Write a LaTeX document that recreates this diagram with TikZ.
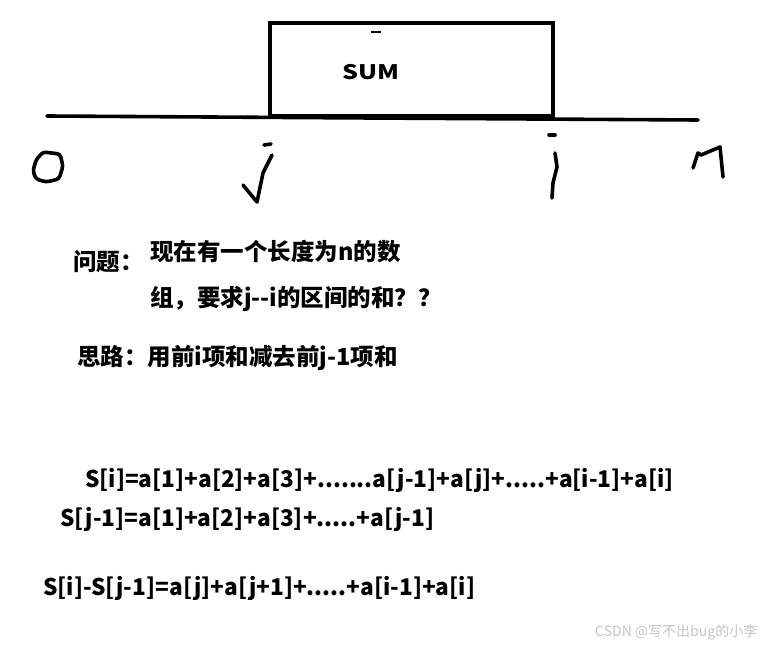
\documentclass[tikz,border=0pt]{standalone}
\usepackage{fontspec}
\setmainfont{Noto Sans CJK SC}
\definecolor{wmark}{HTML}{C4C4C4}
\usepackage{tikz}

\begin{document}
\begin{tikzpicture}[x=1pt, y=-1pt,
  hand/.style={line width=3.6pt, line cap=round, line join=round},
  sumbox/.style={rectangle, draw, line width=4pt, minimum width=283pt,
                 minimum height=93pt, inner sep=0pt},
  txt/.style={anchor=west, inner sep=0pt, font=\fontsize{23.5}{27}\selectfont\bfseries},
  fml/.style={anchor=west, inner sep=0pt, font=\fontsize{23}{27}\selectfont\bfseries, xscale=0.985},
]
\fill[white] (0,0) rectangle (767,645);
\useasboundingbox (0,0) rectangle (767,645);

% the array and its sum
\coordinate (left) at (47,116);
\coordinate (right) at (698,120);
\draw[hand] (left) -- (right);
\node[sumbox] (box) at (411.5,69.5) {};
\node[font=\fontsize{20}{24}\selectfont\bfseries, xscale=1.25] (sum) at (371,72) {SUM};
\draw[line width=1.2pt] (371,32) -- (381,32);

% handwritten marks under the line
\draw[hand, rounded corners=3pt] (43,152) -- (36,160) -- (33,171) -- (36,179) -- (46,182)
  -- (59,179) -- (63,166) -- (60,154) -- cycle;
\draw[hand] (264,145) -- (271,144);
\draw[hand] (272,155) -- (263,173) -- (257,202) -- (243,185);
\draw[hand] (549,135) -- (555,135);
\draw[hand] (555,153) -- (557,167) -- (553,183) -- (552,198);
\draw[hand] (693,168) -- (698,153) -- (701,155) -- (720,147) -- (723,177);

% question and idea
\node[txt] (q) at (73,262) {问题：};
\node[txt] (q1) at (150,252) {现在有一个长度为n的数};
\node[txt] (q2) at (150,299) {组，要求j-{}-i的区间的和？？};
\node[txt] (idea) at (77,358) {思路：用前i项和减去前j-1项和};

% prefix sums
\node[fml] (si) at (85,480) {S[i]=a[1]+a[2]+a[3]+.......a[j-1]+a[j]+.....+a[i-1]+a[i]};
\node[fml] (sj) at (60,519) {S[j-1]=a[1]+a[2]+a[3]+.....+a[j-1]};
\node[fml] (diff) at (43,588) {S[i]-S[j-1]=a[j]+a[j+1]+.....+a[i-1]+a[i]};

\node[anchor=west, inner sep=0pt, text=wmark, font=\fontsize{14}{16}\selectfont] (mark) at (595,632) {CSDN @写不出bug的小李};
\end{tikzpicture}
\end{document}
